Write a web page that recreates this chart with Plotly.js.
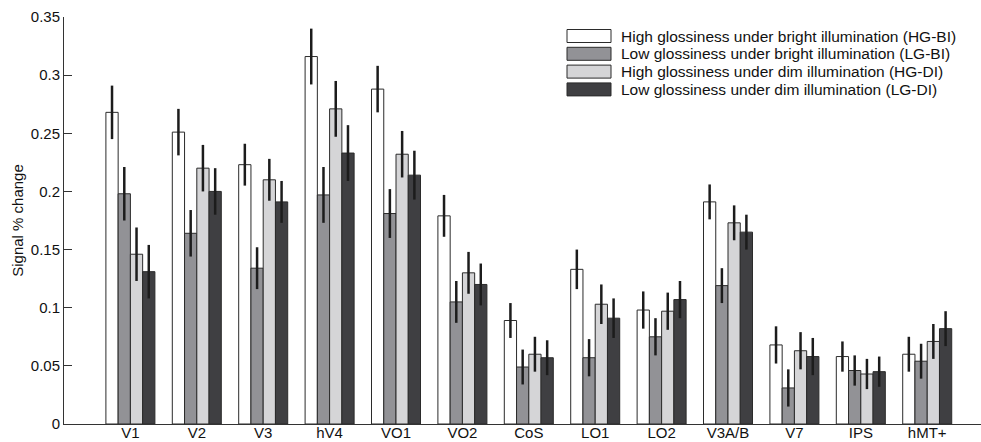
<!DOCTYPE html>
<html>
<head>
<meta charset="utf-8">
<script src="https://cdn.plot.ly/plotly-3.0.1.min.js"></script>
<style>
  html, body { margin: 0; padding: 0; background: #ffffff; }
  #chart { width: 981px; height: 442px; }
</style>
</head>
<body>
<div id="chart"></div>
<script>
// ---- Data ----
const categories = ['V1','V2','V3','hV4','VO1','VO2','CoS','LO1','LO2','V3A/B','V7','IPS','hMT+'];

const seriesNames = [
  'High glossiness under bright illumination (HG-BI)',
  'Low glossiness under bright illumination (LG-BI)',
  'High glossiness under dim illumination (HG-DI)',
  'Low glossiness under dim illumination (LG-DI)'
];

const hgBI    = [0.268, 0.251, 0.223, 0.316, 0.288, 0.179, 0.089, 0.133, 0.098, 0.191, 0.068, 0.058, 0.060];
const hgBIerr = [0.023, 0.020, 0.018, 0.024, 0.020, 0.018, 0.015, 0.017, 0.016, 0.015, 0.016, 0.013, 0.015];

const lgBI    = [0.198, 0.164, 0.134, 0.197, 0.181, 0.105, 0.049, 0.057, 0.075, 0.119, 0.031, 0.046, 0.054];
const lgBIerr = [0.023, 0.020, 0.018, 0.024, 0.021, 0.018, 0.015, 0.016, 0.016, 0.015, 0.016, 0.013, 0.015];

const hgDI    = [0.146, 0.220, 0.210, 0.271, 0.232, 0.130, 0.060, 0.103, 0.097, 0.173, 0.063, 0.043, 0.071];
const hgDIerr = [0.023, 0.020, 0.018, 0.024, 0.020, 0.018, 0.015, 0.017, 0.016, 0.015, 0.016, 0.013, 0.015];

const lgDI    = [0.131, 0.200, 0.191, 0.233, 0.214, 0.120, 0.057, 0.091, 0.107, 0.165, 0.058, 0.045, 0.082];
const lgDIerr = [0.023, 0.020, 0.018, 0.024, 0.021, 0.018, 0.015, 0.017, 0.016, 0.015, 0.016, 0.013, 0.015];

const yTickVals = [0, 0.05, 0.1, 0.15, 0.2, 0.25, 0.3, 0.35];
const yTickText = ['0', '0.05', '0.1', '0.15', '0.2', '0.25', '0.3', '0.35'];

// ---- Styles ----
const fillColors = ['#ffffff', '#929296', '#d5d5d7', '#3f3f42'];
const outline = '#2b2b2b';
const FONT = 'Liberation Sans, Arial, Helvetica, sans-serif';

const values = [hgBI, lgBI, hgDI, lgDI];
const errors = [hgBIerr, lgBIerr, hgDIerr, lgDIerr];

const traces = values.map((v, i) => ({
  type: 'bar',
  name: seriesNames[i],
  x: categories,
  y: v,
  marker: { color: fillColors[i], line: { color: outline, width: 1 } },
  error_y: { type: 'data', array: errors[i], visible: true, color: '#1c1c1c', thickness: 2.5, width: 0 },
  showlegend: false,
  hoverinfo: 'skip'
}));

// ---- Layout geometry (pixels) ----
const W = 981, H = 442;
const M = { l: 64, r: 0, t: 17, b: 18 };
const plotW = W - M.l - M.r, plotH = H - M.t - M.b;
const px2paperX = px => (px - M.l) / plotW;
const px2paperY = py => (H - M.b - py) / plotH;

// Manual legend (wide swatches, tight rows as in reference)
const legX0 = 567, legX1 = 611, legTextX = 619, legRow0 = 36, legStep = 17.8, legH = 13;
const shapes = [];
const annotations = [];
seriesNames.forEach((name, i) => {
  const cy = legRow0 + i * legStep;
  shapes.push({
    type: 'rect', xref: 'paper', yref: 'paper',
    x0: px2paperX(legX0), x1: px2paperX(legX1),
    y0: px2paperY(cy + legH / 2), y1: px2paperY(cy - legH / 2),
    fillcolor: fillColors[i], line: { color: outline, width: 1 }
  });
  annotations.push({
    xref: 'paper', yref: 'paper',
    x: px2paperX(legTextX), y: px2paperY(cy),
    xanchor: 'left', yanchor: 'middle', showarrow: false,
    text: name, font: { family: FONT, size: 15.5, color: '#111111' }
  });
});

const layout = {
  width: W, height: H,
  margin: M,
  paper_bgcolor: '#ffffff', plot_bgcolor: '#ffffff',
  font: { family: FONT, size: 15, color: '#111111' },
  barmode: 'group',
  bargap: 0.262,
  bargroupgap: 0,
  showlegend: false,
  xaxis: {
    type: 'category',
    range: [-1, 12.81],
    showline: true, linecolor: '#333333', linewidth: 1,
    ticks: '', showgrid: false, zeroline: false,
    ticklabelstandoff: -5,
    tickfont: { family: FONT, size: 15, color: '#111111' }
  },
  yaxis: {
    range: [0, 0.35],
    tickvals: yTickVals, ticktext: yTickText,
    ticks: 'inside', ticklen: 8, tickcolor: '#333333', tickwidth: 1,
    showline: true, linecolor: '#333333', linewidth: 1,
    showgrid: false, zeroline: false,
    tickfont: { family: FONT, size: 15, color: '#111111' },
    title: { text: 'Signal % change', font: { family: FONT, size: 15, color: '#111111' }, standoff: 3 }
  },
  shapes: shapes,
  annotations: annotations
};

Plotly.newPlot('chart', traces, layout, { staticPlot: true, displayModeBar: false });
</script>
</body>
</html>
